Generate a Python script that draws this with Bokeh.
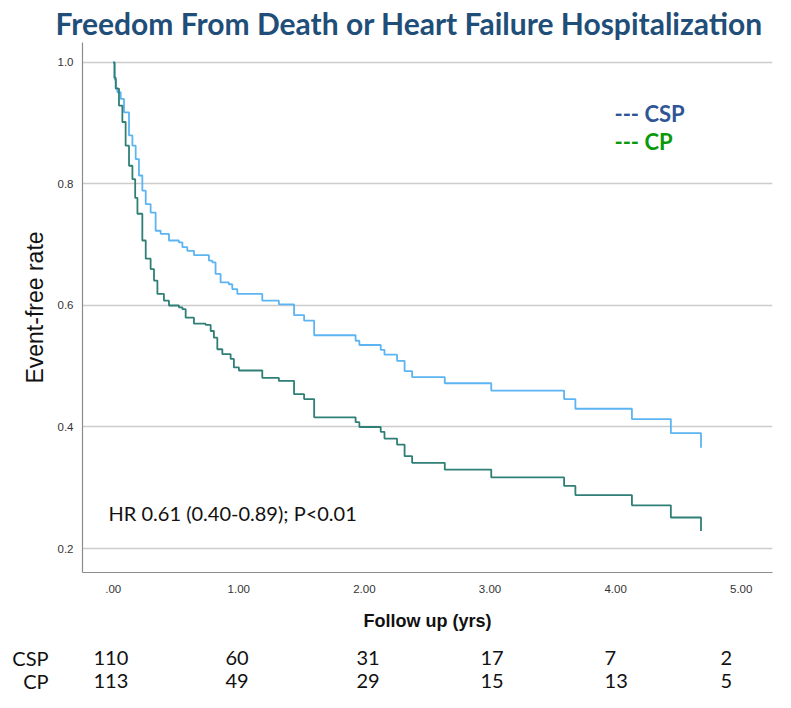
import numpy as np
from bokeh.plotting import figure
from bokeh.layouts import column
from bokeh.models import Label, FixedTicker, Range1d
from bokeh.core.properties import value
from bokeh.embed import file_html
from bokeh.resources import INLINE

# ---- data ----
csp_time = [0.0, 0.012, 0.022, 0.033, 0.060, 0.086, 0.126, 0.153, 0.179, 0.205, 0.232, 0.259,
            0.298, 0.338, 0.378, 0.444, 0.523, 0.551, 0.590, 0.643, 0.762, 0.789, 0.815, 0.855,
            0.921, 0.948, 0.988, 1.187, 1.319, 1.44, 1.52, 1.60, 1.93, 1.96, 2.13, 2.16, 2.26,
            2.32, 2.38, 2.64, 3.01, 3.59, 3.68, 4.13, 4.44, 4.68]
csp_surv = [1.0, 0.972, 0.958, 0.951, 0.940, 0.918, 0.880, 0.863, 0.841, 0.814, 0.789, 0.767,
            0.753, 0.723, 0.718, 0.707, 0.704, 0.696, 0.690, 0.683, 0.674, 0.671, 0.652, 0.638,
            0.635, 0.627, 0.619, 0.608, 0.602, 0.584, 0.575, 0.551, 0.542, 0.535, 0.527, 0.519,
            0.509, 0.492, 0.482, 0.472, 0.460, 0.446, 0.430, 0.413, 0.390, 0.366]
cp_time = [0.0, 0.010, 0.020, 0.046, 0.073, 0.099, 0.126, 0.153, 0.175, 0.193, 0.232, 0.259,
           0.298, 0.325, 0.352, 0.404, 0.444, 0.523, 0.551, 0.577, 0.643, 0.736, 0.776, 0.802,
           0.829, 0.869, 0.935, 0.961, 1.001, 1.187, 1.319, 1.44, 1.52, 1.60, 1.93, 1.96, 2.13,
           2.16, 2.26, 2.32, 2.38, 2.64, 3.01, 3.59, 3.68, 4.13, 4.44, 4.68]
cp_surv = [1.0, 0.975, 0.957, 0.929, 0.902, 0.863, 0.830, 0.808, 0.777, 0.751, 0.707, 0.677,
           0.660, 0.641, 0.619, 0.608, 0.600, 0.597, 0.594, 0.580, 0.570, 0.568, 0.558, 0.547,
           0.528, 0.520, 0.512, 0.498, 0.493, 0.481, 0.476, 0.454, 0.446, 0.416, 0.408, 0.400,
           0.392, 0.381, 0.371, 0.352, 0.341, 0.330, 0.317, 0.303, 0.288, 0.271, 0.251, 0.229]

x_ticks = [0, 1, 2, 3, 4, 5]
x_tick_labels = [".00", "1.00", "2.00", "3.00", "4.00", "5.00"]
y_ticks = [0.2, 0.4, 0.6, 0.8, 1.0]
y_tick_labels = ["0.2", "0.4", "0.6", "0.8", "1.0"]

groups = ["CSP", "CP"]
at_risk_csp = [110, 60, 31, 17, 7, 2]
at_risk_cp = [113, 49, 29, 15, 13, 5]

title_text = "Freedom From Death or Heart Failure Hospitalization"
hr_text = "HR 0.61 (0.40-0.89); P<0.01"

XR = Range1d(-0.2444, 5.2493)

# ---- main figure ----
p = figure(frame_width=690, frame_height=530, output_backend="svg", toolbar_location=None,
           x_range=XR, y_range=Range1d(0.1605, 1.0329),
           min_border_left=82, min_border_right=3, min_border_top=42, min_border_bottom=66)
p.outline_line_color = None
p.border_fill_color = "white"

p.title.text = title_text
p.title.align = "left"
p.title.offset = -27
p.title.standoff = 4
p.title.text_font = "Lato"
p.title.text_font_size = "30px"
p.title.text_font_style = "bold"
p.title.text_color = "#1f4e79"

p.xgrid.grid_line_color = None
p.ygrid.grid_line_color = "#cccccc"
p.ygrid.grid_line_width = 1.5

p.xaxis.ticker = FixedTicker(ticks=x_ticks)
p.xaxis.major_label_overrides = dict(zip(x_ticks, x_tick_labels))
p.yaxis.ticker = FixedTicker(ticks=y_ticks)
p.yaxis.major_label_overrides = dict(zip(y_ticks, y_tick_labels))
for ax in (p.xaxis, p.yaxis):
    ax.axis_line_color = "#8c8c8c"
    ax.axis_line_width = 1.2
    ax.major_tick_line_color = None
    ax.minor_tick_line_color = None
    ax.major_tick_out = 0
    ax.major_tick_in = 0
    ax.minor_tick_out = 0
    ax.minor_tick_in = 0
    ax.major_label_text_font = "Liberation Sans"
    ax.major_label_text_font_size = "11.5px"
    ax.major_label_text_color = "#333333"
    ax.axis_label_text_font = "Liberation Sans"
    ax.axis_label_text_color = "#111111"
p.xaxis.major_label_standoff = 12
p.yaxis.major_label_standoff = 9

p.yaxis.axis_label = "Event-free rate"
p.yaxis.axis_label_text_font_size = "23px"
p.yaxis.axis_label_text_font_style = "normal"
p.yaxis.axis_label_standoff = 7
p.xaxis.axis_label = "Follow up (yrs)"
p.xaxis.axis_label_text_font_size = "18px"
p.xaxis.axis_label_text_font_style = "bold"
p.xaxis.axis_label_standoff = 15

p.step(csp_time, csp_surv, mode="after", line_color="#5cb5f2", line_width=1.8)
p.step(cp_time, cp_surv, mode="after", line_color="#2f7f76", line_width=1.8)

def add(text, x, y, size, color="#111111", style="normal"):
    p.add_layout(Label(x=x, y=y, text=text, text_font="Lato", text_font_size=size,
                       text_color=color, text_font_style=style, text_align="left",
                       text_baseline="middle"))

add("--- CSP", 3.991, 0.916, "22px", color="#2f5597", style="bold")
add("--- CP", 3.991, 0.870, "22px", color="#0a990a", style="bold")
add(hr_text, -0.0366, 0.258, "20px")

# ---- number-at-risk table (same frame alignment as the plot) ----
t = figure(frame_width=690, frame_height=54, output_backend="svg", toolbar_location=None,
           x_range=XR, y_range=Range1d(0, 54),
           min_border_left=82, min_border_right=3, min_border_top=0, min_border_bottom=0)
t.xaxis.visible = False
t.grid.visible = False
t.outline_line_color = None
t.border_fill_color = "white"

row_y = [35, 12]
t.yaxis.ticker = FixedTicker(ticks=row_y)
t.yaxis.major_label_overrides = dict(zip(row_y, groups))
t.yaxis.axis_line_color = None
t.yaxis.major_tick_line_color = None
t.yaxis.minor_tick_line_color = None
t.yaxis.major_tick_out = 0
t.yaxis.minor_tick_out = 0
t.yaxis.major_label_standoff = 34
t.yaxis.major_label_text_font = "Lato"
t.yaxis.major_label_text_font_size = "20px"
t.yaxis.major_label_text_color = "#111111"

col_x = [-0.157, 0.894, 1.937, 2.924, 3.912, 4.835]
for counts, yy in zip([at_risk_csp, at_risk_cp], row_y):
    t.text(x=col_x, y=[yy] * len(col_x), text=[str(n) for n in counts],
           text_font=value("Lato"), text_font_size="20px", text_color="#111111",
           text_align="left", text_baseline="middle")

layout = column(p, t, spacing=0)
open("out.html", "w").write(file_html(layout, INLINE))
